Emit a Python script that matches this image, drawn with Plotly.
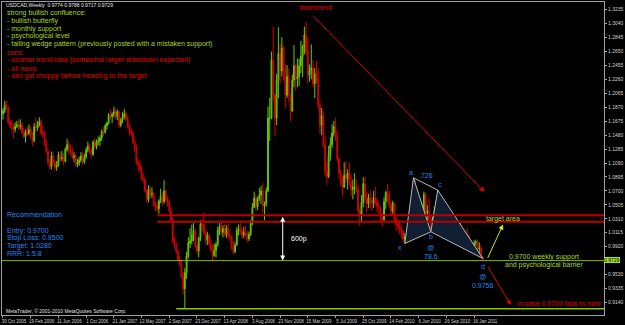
import plotly.graph_objects as go
import pandas as pd

# ---------------- data (USDCAD weekly) ----------------
first_open = 1.1780
high = [
    1.1860, 1.1960, 1.1960, 1.1890, 1.1720, 1.1690, 1.1640, 1.1660, 1.1680,
    1.1700, 1.1700, 1.1660, 1.1580, 1.1560, 1.1600, 1.1630, 1.1600, 1.1520, 1.1650, 1.1720, 1.1680, 1.1730,
    1.1700, 1.1620, 1.1530, 1.1420, 1.1280, 1.1150, 1.1250, 1.1240, 1.1140, 1.1120, 1.1250, 1.1250, 1.1260,
    1.1230, 1.1310, 1.1430, 1.1400, 1.1340, 1.1320, 1.1240, 1.1220, 1.1150, 1.1180, 1.1240, 1.1250, 1.1220,
    1.1310, 1.1390, 1.1360, 1.1300, 1.1410, 1.1440, 1.1420, 1.1460, 1.1480, 1.1560, 1.1600, 1.1640, 1.1670,
    1.1790, 1.1840, 1.1800, 1.1880, 1.1860, 1.1840, 1.1820, 1.1720, 1.1800, 1.1850, 1.1820, 1.1740, 1.1640,
    1.1590, 1.1540, 1.1420, 1.1350, 1.1150, 1.1120, 1.1050, 1.0950, 1.0890, 1.0720, 1.0780, 1.0770, 1.0750,
    1.0680, 1.0560, 1.0530, 1.0580, 1.0730, 1.0680, 1.0850, 1.0720, 1.0620, 1.0580, 1.0470, 1.0320, 1.0060,
    0.9990, 0.9880, 0.9790, 0.9730, 0.9560, 0.9620, 0.9850, 1.0050, 1.0180, 1.0230, 1.0250, 1.0180, 0.9970,
    1.0060, 1.0290, 1.0320, 1.0400, 1.0150, 1.0130, 1.0100, 1.0030, 0.9950, 0.9960, 0.9990, 1.0200, 1.0250,
    1.0290, 1.0220, 1.0240, 1.0220, 1.0260, 1.0150, 1.0070, 1.0000, 0.9980, 1.0190, 1.0230, 1.0260, 1.0180,
    1.0200, 1.0210, 1.0140, 1.0130, 1.0290, 1.0530, 1.0690, 1.0650, 1.0620, 1.0740, 1.0770, 1.0810, 1.0550,
    1.0750, 1.1880, 1.2000, 1.2650, 1.2995, 1.2050, 1.2340, 1.2990, 1.2760, 1.2850, 1.2730, 1.2480, 1.2460,
    1.2410, 1.2050, 1.2330, 1.2740, 1.2480, 1.2550, 1.2550, 1.2800, 1.2750, 1.3000, 1.3065, 1.2850, 1.2470,
    1.2750, 1.2530, 1.2420, 1.2520, 1.2420, 1.1960, 1.1860, 1.1820, 1.1460, 1.1100, 1.1330, 1.1450, 1.1630,
    1.1680, 1.1720, 1.1540, 1.1170, 1.1000, 1.0900, 1.1100, 1.1120, 1.1000, 1.1100, 1.0930, 1.0860, 1.0950,
    1.0860, 1.0780, 1.0480, 1.0640, 1.0890, 1.0900, 1.0690, 1.0660, 1.0710, 1.0620, 1.0700, 1.0760, 1.0600,
    1.0550, 1.0460, 1.0390, 1.0610, 1.0700, 1.0800, 1.0700, 1.0550, 1.0560, 1.0530, 1.0330, 1.0300, 1.0290,
    1.0230, 1.0150, 1.0110, 1.0100, 1.0200, 1.0450, 1.0430, 1.0883, 1.0850, 1.0650, 1.0560, 1.0360, 1.0420,
    1.0690, 1.0680, 1.0500, 1.0600, 1.0360, 1.0340, 1.0480, 1.0480, 1.0712, 1.0660, 1.0450, 1.0440, 1.0420,
    1.0370, 1.0290, 1.0220, 1.0290, 1.0330, 1.0230, 1.0150, 1.0200, 1.0250, 1.0220, 1.0160, 1.0130, 1.0180,
    1.0090, 1.0010, 0.9970, 1.0010, 1.0020, 1.0010, 0.9980, 0.9940, 0.9788,
]
low = [
    1.1700, 1.1790, 1.1840, 1.1630, 1.1580, 1.1550, 1.1440, 1.1520, 1.1580,
    1.1550, 1.1560, 1.1490, 1.1430, 1.1380, 1.1470, 1.1480, 1.1430, 1.1330, 1.1380, 1.1520, 1.1540, 1.1600,
    1.1480, 1.1440, 1.1330, 1.1220, 1.1060, 1.0990, 1.1000, 1.1060, 1.0990, 1.0980, 1.1040, 1.1100, 1.1120,
    1.1060, 1.1100, 1.1250, 1.1220, 1.1200, 1.1140, 1.1100, 1.1040, 1.1030, 1.1050, 1.1100, 1.1060, 1.1080,
    1.1150, 1.1240, 1.1220, 1.1160, 1.1190, 1.1290, 1.1280, 1.1340, 1.1330, 1.1400, 1.1470, 1.1500, 1.1560,
    1.1630, 1.1700, 1.1650, 1.1730, 1.1700, 1.1690, 1.1580, 1.1590, 1.1650, 1.1700, 1.1680, 1.1570, 1.1480,
    1.1470, 1.1360, 1.1250, 1.1080, 1.0980, 1.0960, 1.0850, 1.0810, 1.0680, 1.0530, 1.0540, 1.0610, 1.0600,
    1.0480, 1.0420, 1.0410, 1.0380, 1.0530, 1.0490, 1.0520, 1.0550, 1.0480, 1.0400, 1.0280, 0.9960, 0.9900,
    0.9820, 0.9710, 0.9640, 0.9480, 0.9250, 0.9056, 0.9470, 0.9760, 0.9900, 0.9950, 1.0000, 0.9900, 0.9820,
    0.9770, 1.0000, 1.0140, 1.0080, 0.9950, 0.9940, 0.9920, 0.9850, 0.9720, 0.9780, 0.9770, 0.9920, 1.0080,
    1.0080, 1.0050, 1.0060, 1.0040, 1.0030, 0.9990, 0.9880, 0.9810, 0.9830, 0.9940, 1.0080, 1.0090, 1.0030,
    1.0040, 1.0060, 0.9980, 1.0000, 1.0070, 1.0220, 1.0460, 1.0420, 1.0430, 1.0560, 1.0520, 1.0400, 1.0290,
    1.0480, 1.0680, 1.1400, 1.1700, 1.1960, 1.1470, 1.1620, 1.2000, 1.2200, 1.2300, 1.2240, 1.1850, 1.2000,
    1.1950, 1.1680, 1.1800, 1.2150, 1.2100, 1.2150, 1.2170, 1.2350, 1.2290, 1.2610, 1.2600, 1.2200, 1.2230,
    1.2260, 1.2150, 1.2000, 1.2200, 1.1840, 1.1500, 1.1480, 1.1300, 1.0900, 1.0780, 1.0880, 1.1120, 1.1300,
    1.1460, 1.1400, 1.1100, 1.0870, 1.0760, 1.0630, 1.0760, 1.0820, 1.0720, 1.0780, 1.0630, 1.0580, 1.0650,
    1.0680, 1.0390, 1.0210, 1.0250, 1.0470, 1.0520, 1.0400, 1.0460, 1.0450, 1.0420, 1.0460, 1.0500, 1.0400,
    1.0380, 1.0260, 1.0200, 1.0280, 1.0450, 1.0540, 1.0460, 1.0370, 1.0380, 1.0260, 1.0150, 1.0140, 1.0100,
    1.0040, 0.9980, 0.9965, 0.9980, 0.9990, 1.0110, 1.0070, 1.0200, 1.0400, 1.0310, 1.0250, 1.0120, 1.0180,
    1.0330, 1.0360, 1.0250, 1.0290, 1.0128, 1.0130, 1.0220, 1.0240, 1.0420, 1.0300, 1.0260, 1.0210, 1.0220,
    1.0200, 1.0050, 1.0040, 1.0110, 1.0150, 1.0000, 0.9980, 1.0010, 1.0080, 1.0020, 1.0020, 1.0010, 1.0040,
    0.9930, 0.9890, 0.9860, 0.9880, 0.9930, 0.9870, 0.9820, 0.9770, 0.9717,
]
close = [
    1.1820, 1.1900, 1.1870, 1.1660, 1.1620, 1.1580, 1.1560, 1.1600, 1.1630,
    1.1600, 1.1620, 1.1520, 1.1460, 1.1530, 1.1500, 1.1560, 1.1460, 1.1400, 1.1600, 1.1580, 1.1630, 1.1670,
    1.1510, 1.1480, 1.1360, 1.1250, 1.1100, 1.1040, 1.1190, 1.1100, 1.1030, 1.1060, 1.1200, 1.1150, 1.1160,
    1.1110, 1.1280, 1.1350, 1.1290, 1.1240, 1.1170, 1.1190, 1.1070, 1.1090, 1.1130, 1.1190, 1.1100, 1.1170,
    1.1270, 1.1330, 1.1260, 1.1210, 1.1380, 1.1320, 1.1390, 1.1400, 1.1440, 1.1530, 1.1520, 1.1610, 1.1650,
    1.1760, 1.1740, 1.1770, 1.1810, 1.1740, 1.1810, 1.1620, 1.1690, 1.1740, 1.1780, 1.1710, 1.1600, 1.1540,
    1.1510, 1.1380, 1.1300, 1.1100, 1.1060, 1.0990, 1.0880, 1.0860, 1.0700, 1.0580, 1.0720, 1.0650, 1.0660,
    1.0500, 1.0480, 1.0450, 1.0560, 1.0620, 1.0550, 1.0700, 1.0580, 1.0550, 1.0420, 1.0300, 1.0000, 0.9950,
    0.9860, 0.9740, 0.9680, 0.9500, 0.9330, 0.9560, 0.9790, 0.9970, 1.0000, 1.0080, 1.0140, 0.9930, 0.9860,
    1.0040, 1.0240, 1.0230, 1.0110, 1.0010, 1.0080, 0.9960, 0.9880, 0.9790, 0.9870, 0.9950, 1.0150, 1.0200,
    1.0120, 1.0170, 1.0090, 1.0180, 1.0080, 1.0060, 0.9910, 0.9850, 0.9940, 1.0150, 1.0170, 1.0140, 1.0080,
    1.0120, 1.0100, 1.0030, 1.0090, 1.0250, 1.0470, 1.0600, 1.0480, 1.0590, 1.0640, 1.0700, 1.0490, 1.0520,
    1.0700, 1.1720, 1.1720, 1.2530, 1.2050, 1.1720, 1.2250, 1.2620, 1.2380, 1.2700, 1.2400, 1.2040, 1.2300,
    1.2050, 1.1820, 1.2250, 1.2450, 1.2270, 1.2300, 1.2450, 1.2580, 1.2720, 1.2880, 1.2650, 1.2320, 1.2380,
    1.2420, 1.2200, 1.2340, 1.2300, 1.1900, 1.1620, 1.1750, 1.1330, 1.0960, 1.0900, 1.1200, 1.1350, 1.1510,
    1.1600, 1.1450, 1.1150, 1.0950, 1.0790, 1.0750, 1.0920, 1.0870, 1.0950, 1.0820, 1.0720, 1.0750, 1.0760,
    1.0720, 1.0420, 1.0360, 1.0540, 1.0800, 1.0600, 1.0520, 1.0600, 1.0560, 1.0530, 1.0600, 1.0550, 1.0480,
    1.0470, 1.0320, 1.0300, 1.0550, 1.0680, 1.0660, 1.0500, 1.0420, 1.0530, 1.0300, 1.0230, 1.0200, 1.0170,
    1.0140, 1.0030, 1.0060, 1.0040, 1.0150, 1.0340, 1.0230, 1.0630, 1.0520, 1.0430, 1.0330, 1.0200, 1.0350,
    1.0650, 1.0390, 1.0420, 1.0300, 1.0250, 1.0300, 1.0400, 1.0450, 1.0650, 1.0360, 1.0400, 1.0270, 1.0280,
    1.0250, 1.0100, 1.0170, 1.0230, 1.0200, 1.0030, 1.0120, 1.0090, 1.0140, 1.0050, 1.0090, 1.0100, 1.0070,
    0.9950, 0.9910, 0.9890, 0.9970, 0.9990, 0.9890, 0.9900, 0.9774, 0.9729,
]
first_week = "2005-10-30"

x_tick_labels = ["30 Oct 2005", "19 Feb 2006", "11 Jun 2006", "1 Oct 2006", "21 Jan 2007",
                 "13 May 2007", "2 Sep 2007", "23 Dec 2007", "13 Apr 2008", "3 Aug 2008",
                 "23 Nov 2008", "15 Mar 2009", "5 Jul 2009", "25 Oct 2009", "14 Feb 2010",
                 "6 Jun 2010", "26 Sep 2010", "16 Jan 2011"]
y_tick_values = [1.3235, 1.3040, 1.2845, 1.2650, 1.2455, 1.2260, 1.2065, 1.1870, 1.1675,
                 1.1480, 1.1285, 1.1090, 1.0895, 1.0700, 1.0505, 1.0310, 1.0115, 0.9920,
                 0.9530, 0.9335, 0.9140, 0.8945]
current_price = 0.9729

# butterfly pattern points
pattern_names = ["x", "a", "b", "c", "d"]
pattern_weeks = [232, 237, 247, 251, 277]
pattern_prices = [0.9965, 1.0883, 1.0128, 1.0712, 0.9756]

# horizontal levels
target_levels = [1.0359, 1.0267]
support_level = 0.9725
low_level = 0.9052

# ---------------- helpers ----------------
n = min(len(high), len(low), len(close))
high, low, close = high[:n], low[:n], close[:n]
opens = [first_open] + close[:-1]
t0 = pd.Timestamp(first_week)
dates = [t0 + pd.Timedelta(weeks=i) for i in range(n)]


def wk(i):
    return (t0 + pd.Timedelta(days=7 * i)).strftime("%Y-%m-%d %H:%M")


W, H = 625, 325
ML, MR, MT, MB = 1, 17, 2, 8
PW, PH = W - ML - MR, H - MT - MB


def px(x, y):
    return (x - ML) / PW, 1 - (y - MT) / PH


x_start = "2005-10-26"
x_end = "2012-06-24"

fig = go.Figure()

# butterfly triangles
P = [(wk(w), p) for w, p in zip(pattern_weeks, pattern_prices)]
tri_fill = "#111f33"
for a, b, c in [(0, 1, 2), (2, 3, 4)]:
    fig.add_trace(go.Scatter(x=[P[a][0], P[b][0], P[c][0], P[a][0]],
                             y=[P[a][1], P[b][1], P[c][1], P[a][1]],
                             mode="lines", fill="toself", fillcolor=tri_fill,
                             line=dict(color="#b8b8b8", width=1), hoverinfo="skip",
                             showlegend=False))

fig.add_trace(go.Candlestick(
    x=dates, open=opens, high=high, low=low, close=close,
    increasing=dict(line=dict(color="#66cc00", width=1), fillcolor="#3d8000"),
    decreasing=dict(line=dict(color="#d40000", width=1), fillcolor="#a00000"),
    whiskerwidth=0, showlegend=False, hoverinfo="skip"))

fig.add_trace(go.Scatter(x=[P[1][0], P[3][0]], y=[P[1][1], P[3][1]], mode="lines",
                         line=dict(color="#b8b8b8", width=1), hoverinfo="skip",
                         showlegend=False))

shapes = []
for lv in target_levels:
    shapes.append(dict(type="line", xref="x", yref="y", x0=wk(89), x1=x_end, y0=lv, y1=lv,
                       line=dict(color="#b80000", width=2)))
shapes.append(dict(type="line", xref="x", yref="y", x0=x_start, x1=x_end,
                   y0=support_level, y1=support_level, line=dict(color="#78c000", width=1)))
shapes.append(dict(type="line", xref="x", yref="y", x0=wk(100), x1=x_end,
                   y0=low_level, y1=low_level, line=dict(color="#86c800", width=1.5)))

ann = []
YG = "#a8d81e"
RED = "#e00000"
BLUE = "#2288ee"
FONT = "Liberation Sans, Arial, sans-serif"


def text(x, y, s, color, size=7, anchor="left"):
    xx, yy = px(x, y)
    ann.append(dict(xref="paper", yref="paper", x=xx, y=yy, text=s, showarrow=False,
                    xanchor=anchor, yanchor="middle",
                    font=dict(color=color, size=size, family=FONT)))


text(3, 5, "USDCAD,Weekly  0.9774 0.9788 0.9717 0.9729", "#e8e8e8", 5)
lines_pro = ["strong bullish confluence:", "- bullish butterfly", "- monthly support",
             "- psychological level",
             "- falling wedge pattern (previously posted with a mistaken support)"]
for i, s in enumerate(lines_pro):
    text(4, 13.5 + i * 7.7, s, YG)
lines_con = ["cons:", "- counter trend idea (somewhat larger drawdown expected)", "- oil news",
             "- can get choppy before heading to the target"]
for i, s in enumerate(lines_con):
    text(4, 52.7 + i * 8.0, s, RED)

text(4, 216, "Recommendation", BLUE)
for i, s in enumerate(["Entry: 0.9700", "Stop Loss: 0.9500", "Target: 1.0280", "RRR: 1:5.8"]):
    text(4, 232 + i * 7.7, s, BLUE)

text(3, 313, "MetaTrader, © 2001-2010 MetaQuotes Software Corp.", "#e0e0e0", 5)
text(317, 8, "downtrend", RED, 7, "center")
text(290, 241, "600p", "#ffffff", 7)
text(487, 220, "target area", YG)
text(547, 258.5, "0.9700 weekly support", YG, 7, "center")
text(547, 266.5, "and psychological barrier", YG, 7, "center")
text(518, 305, "In case 0.9700 fails to hold", RED)

# pattern labels
lab_off = [(-5, 4), (-2, -5), (0, 5), (2, -6), (0, 8)]
for (d, p), name, (dx, dy) in zip(P, pattern_names, lab_off):
    ann.append(dict(x=d, y=p, xref="x", yref="y", text=name, showarrow=False,
                    xshift=dx, yshift=-dy, font=dict(color=BLUE, size=7, family=FONT)))
for i, s in [(2, "@<br>78.6"), (4, "@<br>0.9756")]:
    ann.append(dict(x=P[i][0], y=P[i][1], xref="x", yref="y", text=s, showarrow=False,
                    yshift=-20 if i == 2 else -23, font=dict(color=BLUE, size=7, family=FONT)))
ann.append(dict(x=wk(244), y=1.0883, xref="x", yref="y", text=".726", showarrow=False,
                yshift=2, font=dict(color=BLUE, size=7, family=FONT)))


def arrow(w0, p0, w1, p1, color, both=False):
    ann.append(dict(x=wk(w1), y=p1, ax=wk(w0), ay=p0, xref="x", yref="y",
                    axref="x", ayref="y", text="", showarrow=True, arrowhead=2,
                    arrowsize=1, arrowwidth=1, arrowcolor=color,
                    arrowside="end+start" if both else "end"))


arrow(178, 1.3176, 278, 1.0688, RED)
arrow(279.5, 0.9743, 288.7, 1.0229, "#c8e628")
arrow(279.5, 0.9660, 293.2, 0.9104, RED)
arrow(161.5, 1.0359, 161.5, 0.9725, "#ffffff", both=True)

# current price tag
ann.append(dict(xref="paper", yref="y", x=1.0, y=current_price, xanchor="left",
                text=f"{current_price:.4f}", showarrow=False, bgcolor="#a6e01e",
                bordercolor="#ffffff", borderwidth=0, borderpad=0,
                font=dict(color="#000000", size=5, family=FONT)))

fig.update_layout(
    width=W, height=H, margin=dict(l=ML, r=MR, t=MT, b=MB),
    paper_bgcolor="black", plot_bgcolor="black",
    shapes=shapes, annotations=ann, showlegend=False,
    xaxis=dict(type="date", range=[x_start, x_end], rangeslider=dict(visible=False),
               tickvals=dates[::16][:len(x_tick_labels)], ticktext=x_tick_labels,
               tickangle=0,
               tickfont=dict(size=4.5, color="#d0d0d0", family=FONT), ticks="outside",
               ticklen=2, tickcolor="#a0a0a0", ticklabelshift=11,
               showline=True, linecolor="#a0a0a0", linewidth=1, mirror=True,
               showgrid=False, zeroline=False),
    yaxis=dict(side="right", range=[0.8964, 1.3343], tickvals=y_tick_values,
               ticktext=[f"{v:.4f}" for v in y_tick_values],
               tickfont=dict(size=5, color="#d0d0d0", family=FONT), ticks="outside",
               ticklen=2, tickcolor="#a0a0a0", showline=True, linecolor="#a0a0a0",
               linewidth=1, mirror=True, showgrid=False, zeroline=False),
)

fig.write_html("out.html")
